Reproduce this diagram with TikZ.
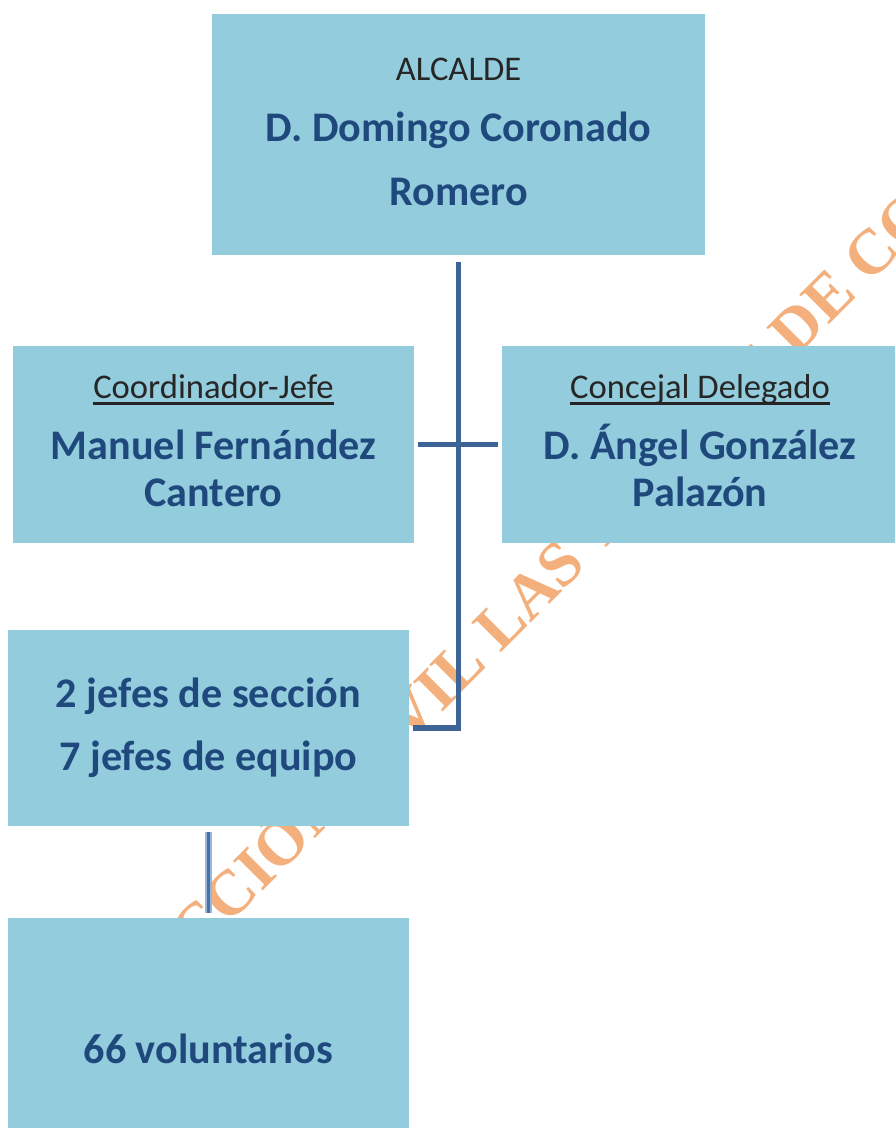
\documentclass[tikz,border=0pt]{standalone}
\usepackage{fontspec}
\setmainfont{Carlito}
\newfontfamily\wmfont{Liberation Serif}
\usepackage{tikz}

\definecolor{boxblue}{HTML}{93CDDD}
\definecolor{nameblue}{HTML}{1F497D}
\definecolor{linkblue}{HTML}{3C6496}
\definecolor{sublight}{HTML}{9AB6DA}
\definecolor{subdark}{HTML}{4671AB}
\definecolor{wmorange}{HTML}{F4B07C}
\newcommand\undl[1]{{\setbox0\hbox{#1}\rlap{\rule[-3.9pt]{\wd0}{1.6pt}}\box0}}

\begin{document}
\begin{tikzpicture}[x=0.02cm, y=-0.02cm,
    box/.style={fill=boxblue, inner sep=0pt},
    cargo/.style={anchor=base, text=black!85, font=\fontsize{19.7}{24}\selectfont},
    nombre/.style={anchor=base, text=nameblue, font=\fontsize{24}{29}\selectfont\bfseries},
    link/.style={draw=linkblue, line width=3.4pt},
    sublink/.style={draw=sublight, line width=0.04cm, double=subdark, double distance=0.07cm},
    wmark/.style={anchor=base, rotate=45, text=wmorange, font=\wmfont\bfseries\fontsize{36.4}{44}\selectfont}]
      \useasboundingbox (0, 0) rectangle (895, 1128);
      % sello de fondo
      \begin{scope}
        \clip (0, 0) rectangle (895, 1128);
        \node[wmark] (sello) at (572, 582) {PROTECCIÓN CIVIL LAS TORRES DE COTILLAS};
      \end{scope}
      % cajas
      \node[box, minimum width=9.86cm, minimum height=4.82cm] (alcalde) at (458.5, 134.5) {};
      \node[box, minimum width=8.02cm, minimum height=3.94cm] (coord) at (213.5, 444.5) {};
      \node[box, minimum width=7.86cm, minimum height=3.94cm] (concejal) at (698.5, 444.5) {};
      \node[box, minimum width=8.02cm, minimum height=3.92cm] (jefes) at (208.5, 728) {};
      \node[box, minimum width=8.02cm, minimum height=4.2cm] (volunt) at (208.5, 1023) {};
      % textos
      \node[cargo] (alcalde-rol) at (458.5, 81) {ALCALDE};
      \node[nombre] (alcalde-n1) at (458.5, 142) {D. Domingo Coronado};
      \node[nombre] (alcalde-n2) at (458.5, 206) {Romero};
      \node[cargo] (coord-rol) at (213.5, 398) {\undl{Coordinador-Jefe}};
      \node[nombre] (coord-n1) at (213.5, 459) {Manuel Fernández};
      \node[nombre] (coord-n2) at (213.5, 506) {Cantero};
      \node[cargo] (concejal-rol) at (700, 398) {\undl{Concejal Delegado}};
      \node[nombre] (concejal-n1) at (700, 459) {D. Ángel González};
      \node[nombre] (concejal-n2) at (700, 506) {Palazón};
      \node[nombre] (jefes-n1) at (208.5, 707) {2 jefes de sección};
      \node[nombre] (jefes-n2) at (208.5, 770) {7 jefes de equipo};
      \node[nombre] (volunt-n1) at (208.5, 1063) {66 voluntarios};
      % lineas
      \draw[link, shorten <=0.14cm, shorten >=0.08cm] (alcalde.south) |- (jefes.east);
      \draw[link, shorten <=0.08cm, shorten >=0.08cm] (coord.east) -- (concejal.west);
      \draw[sublink, shorten <=0.12cm, shorten >=0.1cm] (jefes.south) -- (volunt.north);
    \end{tikzpicture}
\end{document}
